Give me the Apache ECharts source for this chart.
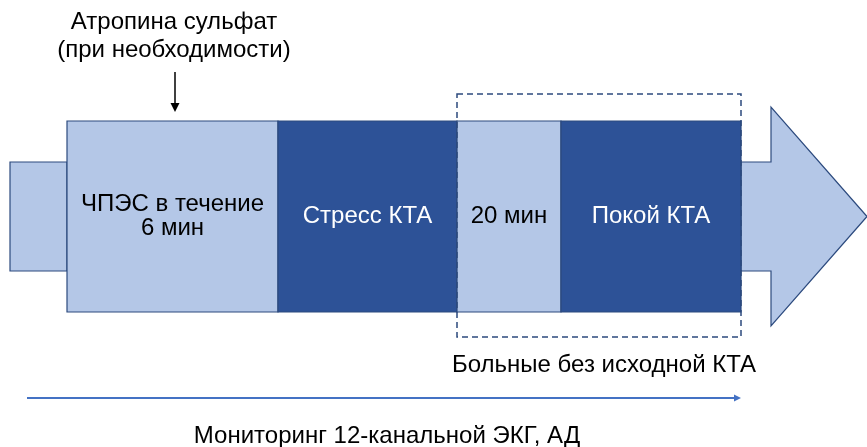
<!DOCTYPE html>
<html><head><meta charset="utf-8">
<script src="https://cdn.jsdelivr.net/npm/echarts@6/dist/echarts.min.js"></script>
<style>html,body{margin:0;padding:0;background:#fff}#c{width:867px;height:447px}</style>
</head><body><div id="c"></div>
<script>
// Stages of the protocol (x extents along the timeline axis, in diagram units)
const stageNames = ['ЧПЭС в течение\n6 мин', 'Стресс КТА', '20 мин', 'Покой КТА'];
const stageStart = [67, 278, 457, 561];
const stageEnd = [278, 457, 561, 741];
const stageDark = [false, true, false, true];
// Syringe-like tail and arrow
const tailStart = [10];
const tailEnd = [67];
const arrowShaftEnd = [771];
const arrowTip = [867];
// Annotations
const topNote = 'Атропина сульфат\n(при необходимости)';
const dashedNote = 'Больные без исходной КТА';
const monitorNote = 'Мониторинг 12-канальной ЭКГ, АД';
const monitorStart = [27];
const monitorEnd = [741];

const LIGHT = '#b4c7e7', DARK = '#2d5297', EDGE = '#2c4a7e';
const FONT = '"Liberation Sans", Arial, sans-serif';
const FS = '24px ';

const chart = echarts.init(document.getElementById('c'));

const boxTop = 121, boxBot = 312, shaftTop = 162, shaftBot = 271, headTop = 107, headBot = 326;

function rectFrom(api, x0, x1, y0, y1) {
  const a = api.coord([x0, y0]), b = api.coord([x1, y1]);
  return {x: a[0], y: a[1], width: b[0] - a[0], height: b[1] - a[1]};
}

chart.setOption({
  animation: false,
  grid: {left: 0, right: 0, top: 0, bottom: 0},
  xAxis: {type: 'value', min: 0, max: 867, show: false},
  yAxis: {type: 'value', min: 0, max: 447, inverse: true, show: false},
  series: [
    { // tail
      type: 'custom', data: tailStart.map((s, i) => [s, tailEnd[i]]),
      renderItem: (p, api) => ({
        type: 'rect', shape: rectFrom(api, api.value(0), api.value(1), shaftTop, shaftBot),
        style: {fill: LIGHT, stroke: EDGE, lineWidth: 1.2}
      })
    },
    { // arrow
      type: 'custom', data: arrowShaftEnd.map((s, i) => [stageEnd[3], s, arrowTip[i]]),
      renderItem: (p, api) => {
        const x0 = api.value(0), x1 = api.value(1), x2 = api.value(2);
        const pts = [[x0, shaftTop], [x1, shaftTop], [x1, headTop], [x2, (headTop + headBot) / 2],
                     [x1, headBot], [x1, shaftBot], [x0, shaftBot]].map(q => api.coord(q));
        return {type: 'polygon', shape: {points: pts}, style: {fill: LIGHT, stroke: EDGE, lineWidth: 1.2}};
      }
    },
    { // stages
      type: 'custom',
      data: stageNames.map((n, i) => [stageStart[i], stageEnd[i], stageDark[i] ? 1 : 0, n]),
      renderItem: (p, api) => {
        const x0 = api.value(0), x1 = api.value(1), dark = api.value(2) === 1;
        const r = rectFrom(api, x0, x1, boxTop, boxBot);
        return {
          type: 'group', children: [
            {type: 'rect', shape: r, style: {fill: dark ? DARK : LIGHT, stroke: EDGE, lineWidth: 1.2}},
            {type: 'text', style: {
              text: stageNames[p.dataIndex], x: r.x + r.width / 2, y: r.y + r.height / 2,
              align: 'center', verticalAlign: 'middle', fill: dark ? '#fff' : '#000',
              font: FS + FONT, lineHeight: 24
            }}
          ]
        };
      }
    },
    { // dashed bracket around patients without baseline CTA
      type: 'custom', data: [[stageStart[2], stageEnd[3]]],
      renderItem: (p, api) => ({
        type: 'group', children: [
          {type: 'rect', shape: rectFrom(api, api.value(0), api.value(1), 94, 337),
            style: {fill: null, stroke: EDGE, lineWidth: 1.5, lineDash: [6, 4]}},
          {type: 'text', style: {text: dashedNote, x: api.coord([api.value(0), 0])[0] - 5, y: api.coord([0, 365])[1],
            align: 'left', verticalAlign: 'middle', fill: '#000', font: FS + FONT}}
        ]
      })
    },
    { // atropine note with arrow
      type: 'custom', data: [[175]],
      renderItem: (p, api) => {
        const t = api.coord([api.value(0), 36]);
        const a0 = api.coord([api.value(0), 72]), a1 = api.coord([api.value(0), 112]);
        return {
          type: 'group', children: [
            {type: 'text', style: {text: topNote, x: t[0] - 1, y: t[1], align: 'center', verticalAlign: 'middle',
              fill: '#000', font: FS + FONT, lineHeight: 28}},
            {type: 'line', shape: {x1: a0[0], y1: a0[1], x2: a1[0], y2: a1[1] - 6}, style: {stroke: '#000', lineWidth: 1.5}},
            {type: 'polygon', shape: {points: [[a1[0] - 4.5, a1[1] - 9], [a1[0] + 4.5, a1[1] - 9], [a1[0], a1[1]]]}, style: {fill: '#000'}}
          ]
        };
      }
    },
    { // monitoring line
      type: 'custom', data: monitorStart.map((s, i) => [s, monitorEnd[i]]),
      renderItem: (p, api) => {
        const a = api.coord([api.value(0), 398]), b = api.coord([api.value(1), 398]);
        const t = api.coord([387, 436]);
        return {
          type: 'group', children: [
            {type: 'line', shape: {x1: a[0], y1: a[1], x2: b[0] - 5, y2: b[1]}, style: {stroke: '#4472c4', lineWidth: 2}},
            {type: 'polygon', shape: {points: [[b[0] - 7, b[1] - 3.5], [b[0] - 7, b[1] + 3.5], [b[0], b[1]]]}, style: {fill: '#4472c4'}},
            {type: 'text', style: {text: monitorNote, x: t[0], y: t[1], align: 'center', verticalAlign: 'middle',
              fill: '#000', font: FS + FONT}}
          ]
        };
      }
    }
  ]
});
</script></body></html>
